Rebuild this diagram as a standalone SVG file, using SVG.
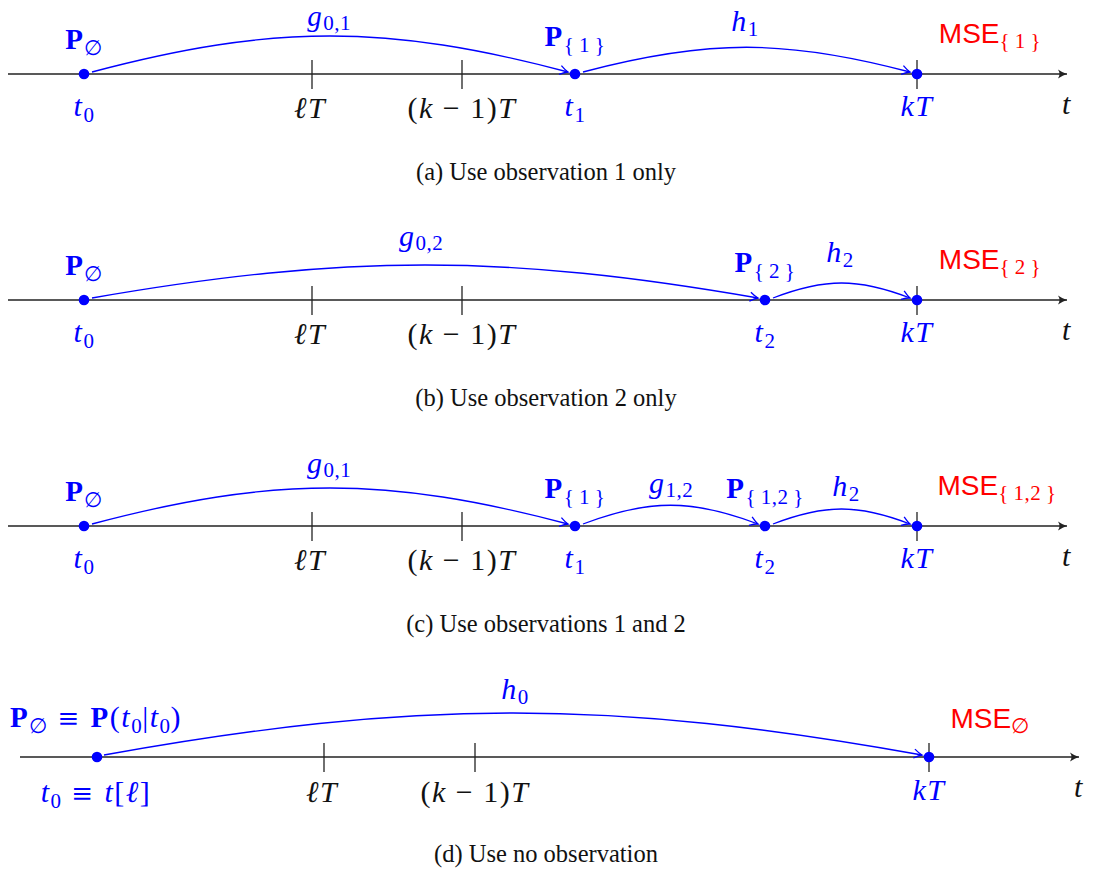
<svg xmlns="http://www.w3.org/2000/svg" width="1094" height="871" viewBox="0 0 1094 871">
<style>
.ax{stroke:#222;stroke-width:1.4;fill:none}
.tk{stroke:#222;stroke-width:1.3}
.dot{fill:#0000ff}
.arc{stroke:#0000ff;stroke-width:1.3;fill:none}
.m{font-family:"Liberation Serif","Times New Roman",serif;font-size:30px;letter-spacing:1.5px;text-anchor:middle}
.i{font-style:italic}
.b{font-weight:bold;font-size:29px}
.s{font-size:21px;letter-spacing:0.5px}
.eq{font-family:"DejaVu Serif",serif;font-size:26px}
.blue{fill:#0000ff}
.blk{fill:#111}
.mse{font-family:"Liberation Sans",Arial,sans-serif;font-size:28px;fill:#ff0000;text-anchor:middle}
.ms{font-family:"Liberation Serif","Times New Roman",serif;font-size:21px;letter-spacing:0.5px}
.cap{font-family:"Liberation Serif","Times New Roman",serif;font-size:24.5px;fill:#111;text-anchor:middle}
</style>
<defs>
<marker id="to" markerUnits="userSpaceOnUse" viewBox="-9 -6 10 12" markerWidth="10" markerHeight="12" refX="0" refY="0" orient="auto" overflow="visible">
<path d="M-8,-4.5 Q-3,-1 0,0 Q-3,1 -8,4.5" stroke="#0000ff" stroke-width="1.3" fill="none"/>
</marker>
<marker id="axh" markerUnits="userSpaceOnUse" viewBox="-10 -6 11 12" markerWidth="11" markerHeight="12" refX="0" refY="0" orient="auto" overflow="visible">
<path d="M-9,-4.5 Q-4,-1 0,0 Q-4,1 -9,4.5 Q-6,0 -9,-4.5 z" fill="#222"/>
</marker>
</defs>

<!-- Panel (a) -->
<g id="panel-a">
<line class="ax" x1="8" y1="74" x2="1067" y2="74" marker-end="url(#axh)"/>
<g id="a-tick-lT"><line class="tk" x1="312" y1="60" x2="312" y2="89"/><text class="m blk" x="310" y="118"><tspan class="i">ℓT</tspan></text></g>
<g id="a-tick-k1T"><line class="tk" x1="462" y1="60" x2="462" y2="89"/><text class="m blk" x="462" y="118">(<tspan class="i">k</tspan> − 1)<tspan class="i">T</tspan></text></g>
<g id="a-t0"><circle class="dot" cx="84" cy="74" r="5.3"/>
<text class="m blue" x="84" y="49"><tspan class="b">P</tspan><tspan class="s" dy="6">∅</tspan></text>
<text class="m blue" x="84" y="116"><tspan class="i">t</tspan><tspan class="s" dy="6">0</tspan></text></g>
<g id="a-t1"><circle class="dot" cx="575" cy="74" r="5.3"/>
<text class="m blue" x="575" y="46"><tspan class="b">P</tspan><tspan class="s" dy="6">{&#8201;1&#8201;}</tspan></text>
<text class="m blue" x="575" y="116"><tspan class="i">t</tspan><tspan class="s" dy="6">1</tspan></text></g>
<g id="a-kT"><line class="tk" x1="917" y1="60" x2="917" y2="89"/><circle class="dot" cx="917" cy="74" r="5.3"/>
<text class="mse" x="990" y="43">MSE<tspan class="ms" dy="5">{&#8201;1&#8201;}</tspan></text>
<text class="m blue" x="917" y="116"><tspan class="i">kT</tspan></text></g>
<text class="m blk" x="1067" y="114"><tspan class="i">t</tspan></text>
<text class="m blue" x="329" y="26" style="font-size:29px"><tspan class="i">g</tspan><tspan class="s" dy="4">0,1</tspan></text>
<text class="m blue" x="745" y="31"><tspan class="i">h</tspan><tspan class="s" dy="5">1</tspan></text>
<text class="cap" x="546" y="180">(a) Use observation 1 only</text>
</g>

<!-- Panel (b) -->
<g id="panel-b">
<line class="ax" x1="8" y1="300" x2="1067" y2="300" marker-end="url(#axh)"/>
<g id="b-tick-lT"><line class="tk" x1="312" y1="286" x2="312" y2="315"/><text class="m blk" x="310" y="344"><tspan class="i">ℓT</tspan></text></g>
<g id="b-tick-k1T"><line class="tk" x1="462" y1="286" x2="462" y2="315"/><text class="m blk" x="462" y="344">(<tspan class="i">k</tspan> − 1)<tspan class="i">T</tspan></text></g>
<g id="b-t0"><circle class="dot" cx="84" cy="300" r="5.3"/>
<text class="m blue" x="84" y="275"><tspan class="b">P</tspan><tspan class="s" dy="6">∅</tspan></text>
<text class="m blue" x="84" y="342"><tspan class="i">t</tspan><tspan class="s" dy="6">0</tspan></text></g>
<g id="b-t2"><circle class="dot" cx="765" cy="300" r="5.3"/>
<text class="m blue" x="765" y="272"><tspan class="b">P</tspan><tspan class="s" dy="6">{&#8201;2&#8201;}</tspan></text>
<text class="m blue" x="765" y="342"><tspan class="i">t</tspan><tspan class="s" dy="6">2</tspan></text></g>
<g id="b-kT"><line class="tk" x1="917" y1="286" x2="917" y2="315"/><circle class="dot" cx="917" cy="300" r="5.3"/>
<text class="mse" x="990" y="269">MSE<tspan class="ms" dy="5">{&#8201;2&#8201;}</tspan></text>
<text class="m blue" x="917" y="342"><tspan class="i">kT</tspan></text></g>
<text class="m blk" x="1067" y="340"><tspan class="i">t</tspan></text>
<text class="m blue" x="421" y="246"><tspan class="i">g</tspan><tspan class="s" dy="4">0,2</tspan></text>
<text class="m blue" x="840" y="262"><tspan class="i">h</tspan><tspan class="s" dy="5">2</tspan></text>
<text class="cap" x="546" y="406">(b) Use observation 2 only</text>
</g>

<!-- Panel (c) -->
<g id="panel-c">
<line class="ax" x1="8" y1="526" x2="1067" y2="526" marker-end="url(#axh)"/>
<g id="c-tick-lT"><line class="tk" x1="312" y1="512" x2="312" y2="541"/><text class="m blk" x="310" y="570"><tspan class="i">ℓT</tspan></text></g>
<g id="c-tick-k1T"><line class="tk" x1="462" y1="512" x2="462" y2="541"/><text class="m blk" x="462" y="570">(<tspan class="i">k</tspan> − 1)<tspan class="i">T</tspan></text></g>
<g id="c-t0"><circle class="dot" cx="84" cy="526" r="5.3"/>
<text class="m blue" x="84" y="501"><tspan class="b">P</tspan><tspan class="s" dy="6">∅</tspan></text>
<text class="m blue" x="84" y="568"><tspan class="i">t</tspan><tspan class="s" dy="6">0</tspan></text></g>
<g id="c-t1"><circle class="dot" cx="575" cy="526" r="5.3"/>
<text class="m blue" x="575" y="498"><tspan class="b">P</tspan><tspan class="s" dy="6">{&#8201;1&#8201;}</tspan></text>
<text class="m blue" x="575" y="568"><tspan class="i">t</tspan><tspan class="s" dy="6">1</tspan></text></g>
<g id="c-t2"><circle class="dot" cx="765" cy="526" r="5.3"/>
<text class="m blue" x="765" y="498"><tspan class="b">P</tspan><tspan class="s" dy="6">{&#8201;1,2&#8201;}</tspan></text>
<text class="m blue" x="765" y="568"><tspan class="i">t</tspan><tspan class="s" dy="6">2</tspan></text></g>
<g id="c-kT"><line class="tk" x1="917" y1="512" x2="917" y2="541"/><circle class="dot" cx="917" cy="526" r="5.3"/>
<text class="mse" x="997" y="495">MSE<tspan class="ms" dy="5">{&#8201;1,2&#8201;}</tspan></text>
<text class="m blue" x="917" y="568"><tspan class="i">kT</tspan></text></g>
<text class="m blk" x="1067" y="566"><tspan class="i">t</tspan></text>
<text class="m blue" x="329" y="473"><tspan class="i">g</tspan><tspan class="s" dy="4">0,1</tspan></text>
<text class="m blue" x="671" y="493"><tspan class="i">g</tspan><tspan class="s" dy="4">1,2</tspan></text>
<text class="m blue" x="846" y="496"><tspan class="i">h</tspan><tspan class="s" dy="5">2</tspan></text>
<text class="cap" x="546" y="632">(c) Use observations 1 and 2</text>
</g>

<!-- Panel (d) -->
<g id="panel-d">
<line class="ax" x1="20" y1="757" x2="1079" y2="757" marker-end="url(#axh)"/>
<g id="d-tick-lT"><line class="tk" x1="324" y1="743" x2="324" y2="772"/><text class="m blk" x="322" y="802"><tspan class="i">ℓT</tspan></text></g>
<g id="d-tick-k1T"><line class="tk" x1="475" y1="743" x2="475" y2="772"/><text class="m blk" x="475" y="802">(<tspan class="i">k</tspan> − 1)<tspan class="i">T</tspan></text></g>
<g id="d-t0"><circle class="dot" cx="97" cy="757" r="5.3"/>
<text class="m blue" x="96" y="727"><tspan class="b">P</tspan><tspan class="s" dy="6">∅</tspan><tspan class="eq" dy="-6"> ≡ </tspan><tspan class="b">P</tspan>(<tspan class="i">t</tspan><tspan class="s" dy="6">0</tspan><tspan dy="-6">|</tspan><tspan class="i">t</tspan><tspan class="s" dy="6">0</tspan><tspan dy="-6">)</tspan></text>
<text class="m blue" x="96" y="802"><tspan class="i">t</tspan><tspan class="s" dy="6">0</tspan><tspan class="eq" dy="-6"> ≡ </tspan><tspan class="i">t</tspan>[<tspan class="i">ℓ</tspan>]</text></g>
<g id="d-kT"><line class="tk" x1="929" y1="743" x2="929" y2="772"/><circle class="dot" cx="929" cy="757" r="5.3"/>
<text class="mse" x="990" y="728">MSE<tspan class="ms" dy="5">∅</tspan></text>
<text class="m blue" x="929" y="800"><tspan class="i">kT</tspan></text></g>
<text class="m blk" x="1079" y="797"><tspan class="i">t</tspan></text>
<text class="m blue" x="515" y="699"><tspan class="i">h</tspan><tspan class="s" dy="5">0</tspan></text>
<text class="cap" x="546" y="862">(d) Use no observation</text>
</g>

<g id="connectors">
<path class="arc" marker-end="url(#to)" d="M92,72 C273,24 387,24 568,72"/>
<path class="arc" marker-end="url(#to)" d="M583,72 C707,39 786,39 910,72"/>
<path class="arc" marker-end="url(#to)" d="M92,298 C345,254 505,254 758,298"/>
<path class="arc" marker-end="url(#to)" d="M773,298 C825,278 858,278 910,298"/>
<path class="arc" marker-end="url(#to)" d="M92,524 C273,476 387,476 568,524"/>
<path class="arc" marker-end="url(#to)" d="M583,524 C649,499 692,499 758,524"/>
<path class="arc" marker-end="url(#to)" d="M773,524 C825,504 858,504 910,524"/>
<path class="arc" marker-end="url(#to)" d="M104,755 C415,699 611,699 922,755"/>
</g>
</svg>
